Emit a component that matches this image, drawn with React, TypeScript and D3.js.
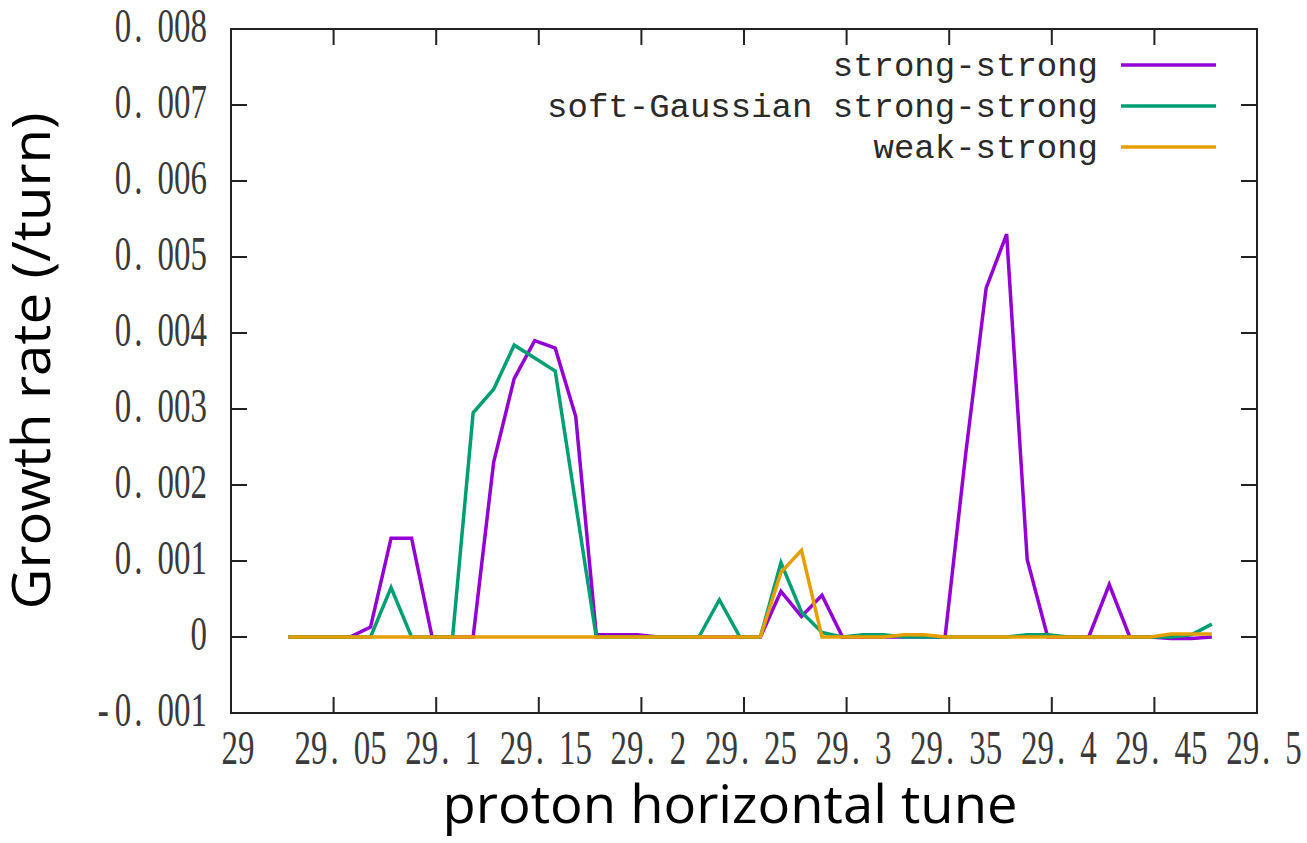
import React from "react";
import * as d3 from "d3";

// proton horizontal tune (scan points)
const tunes = [
  29.028, 29.038, 29.048, 29.058, 29.068, 29.078, 29.088, 29.098, 29.108, 29.118,
  29.128, 29.138, 29.148, 29.158, 29.168, 29.178, 29.188, 29.198, 29.208, 29.218,
  29.228, 29.238, 29.248, 29.258, 29.268, 29.278, 29.288, 29.298, 29.308, 29.318,
  29.328, 29.338, 29.348, 29.358, 29.368, 29.378, 29.388, 29.398, 29.408, 29.418,
  29.428, 29.438, 29.448, 29.458, 29.468, 29.478,
];

const strongStrong = [
  0, 0, 0, 0, 0.00013, 0.0013, 0.0013, 0, 0, 0,
  0.0023, 0.0034, 0.0039, 0.0038, 0.0029, 0.00003, 0.00003, 0.00003, 0, 0,
  0, 0, 0, 0, 0.0006, 0.00027, 0.00055, 0, 0, 0,
  0, 0, 0, 0.0024, 0.00459, 0.0053, 0.00102, 0, 0, 0,
  0.00069, 0, 0, -0.00002, -0.00002, 0,
];

const softGaussian = [
  0, 0, 0, 0, 0, 0.00065, 0, 0, 0, 0.00295,
  0.00326, 0.00384, 0.00367, 0.0035, 0.00175, 0, 0, 0, 0, 0,
  0, 0.00049, 0, 0, 0.00098, 0.00033, 0.00006, 0, 0.00003, 0.00003,
  0, 0, 0, 0, 0, 0, 0.00003, 0.00003, 0, 0,
  0, 0, 0, 0, 0.00003, 0.00017,
];

const weakStrong = [
  0, 0, 0, 0, 0, 0, 0, 0, 0, 0,
  0, 0, 0, 0, 0, 0, 0, 0, 0, 0,
  0, 0, 0, 0, 0.00085, 0.00114, 0, 0, 0, 0,
  0.00003, 0.00003, 0, 0, 0, 0, 0, 0, 0, 0,
  0, 0, 0, 0.00004, 0.00004, 0.00004,
];

const seriesNames = ["strong-strong", "soft-Gaussian strong-strong", "weak-strong"];
const seriesColors = ["#9400d3", "#009e73", "#e69f00"];

const xTickValues = [29, 29.05, 29.1, 29.15, 29.2, 29.25, 29.3, 29.35, 29.4, 29.45, 29.5];
const xTickLabels = ["29", "29.05", "29.1", "29.15", "29.2", "29.25", "29.3", "29.35", "29.4", "29.45", "29.5"];
const yTickValues = [-0.001, 0, 0.001, 0.002, 0.003, 0.004, 0.005, 0.006, 0.007, 0.008];
const yTickLabels = ["-0.001", "0", "0.001", "0.002", "0.003", "0.004", "0.005", "0.006", "0.007", "0.008"];

const W = 1307;
const H = 843;
const L = 231, R = 1257, T = 29, B = 713;

function TickText({ x, y, text, anchor }: { x: number; y: number; text: string; anchor: string }) {
  const i = text.indexOf(".");
  const neg = text.startsWith("-");
  const head = neg ? text.slice(1, i < 0 ? undefined : i) : text.slice(0, i < 0 ? undefined : i);
  return (
    <text
      transform={`translate(${x},${y}) scale(1,1.5)`}
      textAnchor={anchor}
      fontFamily="'Liberation Serif', serif"
      fontSize={33}
      fill="#3a3a3a"
    >
      {neg && <tspan>-</tspan>}
      <tspan dx={neg ? 6 : 0}>{head}</tspan>
      {i >= 0 && <tspan dx={3}>.</tspan>}
      {i >= 0 && <tspan dx={15}>{text.slice(i + 1)}</tspan>}
    </text>
  );
}

export default function App() {
  const x = d3.scaleLinear().domain([29, 29.5]).range([L, R]);
  const y = d3.scaleLinear().domain([-0.001, 0.008]).range([B, T]);
  const allSeries = [strongStrong, softGaussian, weakStrong];
  const line = d3
    .line<number>()
    .x((_, i) => x(tunes[i]))
    .y((d) => y(d));
  const tick = 16;
  const legendY = [65, 106, 147];

  return (
    <svg
      width={W}
      height={H}
      style={{ position: "absolute", left: 0, top: 0, background: "#fff" }}
    >
      <rect x={0} y={0} width={W} height={H} fill="#fff" />
      {/* y ticks */}
      {yTickValues.map((v, i) => (
        <g key={"y" + i}>
          <line x1={L} x2={L + tick} y1={y(v)} y2={y(v)} stroke="#222" strokeWidth={2} />
          <line x1={R} x2={R - tick} y1={y(v)} y2={y(v)} stroke="#222" strokeWidth={2} />
          <TickText x={207} y={y(v) + 13} text={yTickLabels[i]} anchor="end" />
        </g>
      ))}
      {/* x ticks */}
      {xTickValues.map((v, i) => (
        <g key={"x" + i}>
          <line x1={x(v)} x2={x(v)} y1={B} y2={B - tick} stroke="#222" strokeWidth={2} />
          <line x1={x(v)} x2={x(v)} y1={T} y2={T + tick} stroke="#222" strokeWidth={2} />
          <TickText x={x(v) + 7} y={764} text={xTickLabels[i]} anchor="middle" />
        </g>
      ))}
      {/* series */}
      {allSeries.map((s, k) => (
        <path
          key={"s" + k}
          d={line(s) || ""}
          fill="none"
          stroke={seriesColors[k]}
          strokeWidth={3.5}
          strokeLinejoin="miter"
        />
      ))}
      {/* frame */}
      <rect x={L} y={T} width={R - L} height={B - T} fill="none" stroke="#222" strokeWidth={2} />
      {/* legend */}
      {seriesNames.map((n, k) => (
        <g key={"l" + k}>
          <text
            x={1098}
            y={legendY[k] + 11}
            textAnchor="end"
            fontFamily="'Liberation Mono', monospace"
            fontSize={34}
            fill="#2a2a2a"
          >
            {n}
          </text>
          <line x1={1121} x2={1216} y1={legendY[k]} y2={legendY[k]} stroke={seriesColors[k]} strokeWidth={3.5} />
        </g>
      ))}
      {/* axis titles */}
      <text
        transform="translate(50,361) rotate(-90)"
        textAnchor="middle"
        fontFamily="'Open Sans', sans-serif"
        fontSize={53}
        textLength={497}
        lengthAdjust="spacingAndGlyphs"
        fill="#000"
      >
        Growth rate (/turn)
      </text>
      <text
        x={730}
        y={823}
        textAnchor="middle"
        fontFamily="'Open Sans', sans-serif"
        fontSize={53}
        textLength={575}
        lengthAdjust="spacingAndGlyphs"
        fill="#000"
      >
        proton horizontal tune
      </text>
    </svg>
  );
}
